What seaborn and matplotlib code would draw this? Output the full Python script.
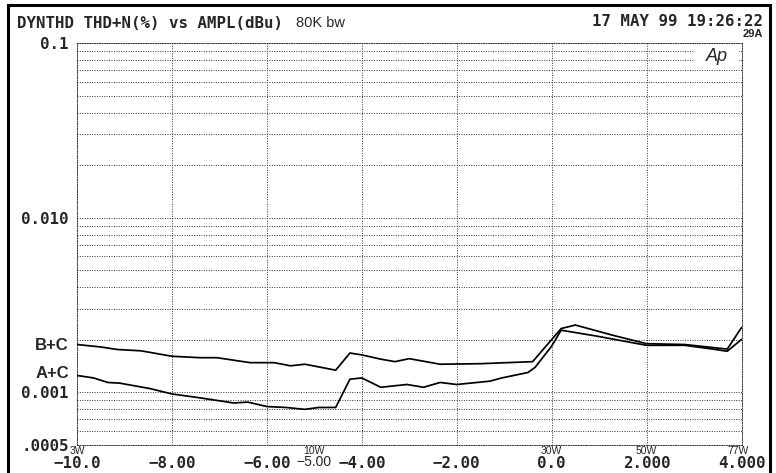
import matplotlib
matplotlib.use("Agg")
import matplotlib.pyplot as plt
import matplotlib.ticker as mticker
import matplotlib.transforms as mtrans
from matplotlib.patches import Rectangle
import numpy as np
import pandas as pd
import seaborn as sns

# amplitude (dBu) vs THD+N (%)
bc_x = [-10.0, -9.5, -9.15, -8.65, -8.0, -7.4, -7.05, -6.35, -5.85, -5.5, -5.2, -4.85,
        -4.55, -4.25, -4.0, -3.6, -3.3, -3.0, -2.35, -1.5, -0.4, 0.2, 0.5, 1.3, 2.0,
        2.8, 3.7, 4.0]
bc_y = [0.00188, 0.00182, 0.00176, 0.00173, 0.00161, 0.00158, 0.00158, 0.00148, 0.00148,
        0.00142, 0.00145, 0.00139, 0.00134, 0.00168, 0.00164, 0.00155, 0.00150, 0.00156,
        0.00145, 0.00146, 0.00150, 0.00232, 0.00243, 0.00212, 0.00190, 0.00188, 0.00177,
        0.00235]
ac_x = [-10.0, -9.65, -9.35, -9.1, -8.45, -8.0, -7.4, -6.7, -6.4, -6.0, -5.6, -5.2,
        -4.9, -4.55, -4.25, -4.0, -3.6, -3.05, -2.7, -2.35, -2.0, -1.3, -1.05, -0.5,
        -0.35, 0.0, 0.2, 0.95, 2.0, 2.8, 3.4, 3.7, 4.0]
ac_y = [0.00125, 0.00121, 0.00114, 0.00113, 0.00105, 0.00098, 0.00093, 0.00087, 0.00088,
        0.00083, 0.00082, 0.00080, 0.00082, 0.00082, 0.00119, 0.00121, 0.00107, 0.00111,
        0.00107, 0.00114, 0.00111, 0.00116, 0.00121, 0.00130, 0.00139, 0.00184, 0.00227,
        0.00210, 0.00186, 0.00186, 0.00177, 0.00172, 0.00201]

x_ticks = [-10, -8, -6, -4, -2, 0, 2, 4]
x_ticklabels = ["\u221210.0", "\u22128.00", "\u22126.00", "\u22124.00", "\u22122.00",
                "0.0", "2.000", "4.000"]
y_grid = [0.0005, 0.0006, 0.0007, 0.0008, 0.0009,
          0.001, 0.002, 0.003, 0.004, 0.005, 0.006, 0.007, 0.008, 0.009,
          0.01, 0.02, 0.03, 0.04, 0.05, 0.06, 0.07, 0.08, 0.09, 0.1]
y_labeled = {0.0005: ".0005", 0.001: "0.001", 0.01: "0.010", 0.1: "0.1"}
power_x = [-10, -5, 0, 2, 3.93]
power_labels = ["3W", "10W", "30W", "50W", "77W"]

W, H = 776, 473


def fx(px):
	return px / W


def fy(py):
	return 1 - py / H


sns.set_style("white")
plt.rcParams["font.family"] = ["DejaVu Sans"]
MONO = "DejaVu Sans Mono"
SANS = "Liberation Sans"
MSIZE = 11.3

df = pd.concat(
	[
		pd.DataFrame({"ampl": bc_x, "thdn": bc_y, "curve": "B+C"}),
		pd.DataFrame({"ampl": ac_x, "thdn": ac_y, "curve": "A+C"}),
	],
	ignore_index=True,
)

fig = plt.figure(figsize=(W / 100, H / 100), dpi=100)
ax = fig.add_axes([fx(77), fy(445), fx(741.5) - fx(77), fy(43) - fy(445)])

sns.lineplot(
	data=df, x="ampl", y="thdn", hue="curve", palette={"B+C": "black", "A+C": "black"},
	estimator=None, sort=False, linewidth=1.25, legend=False, ax=ax, zorder=3,
)

ax.set_yscale("log")
ax.set_xlim(-10, 4)
ax.set_ylim(0.0005, 0.1)
ax.set_xticks(x_ticks)
ax.set_xticklabels(x_ticklabels, fontfamily=MONO, fontweight="bold", fontsize=MSIZE)
ax.yaxis.set_major_locator(mticker.FixedLocator(y_grid))
ax.yaxis.set_minor_locator(mticker.NullLocator())
ax.set_yticklabels([y_labeled.get(v, "") for v in y_grid],
                   fontfamily=MONO, fontweight="bold", fontsize=MSIZE)
ax.tick_params(axis="both", length=0)
ax.tick_params(axis="y", pad=6)
ax.tick_params(axis="x", pad=8)
ax.set_xlabel("")
ax.set_ylabel("")

dots = (0, (1, 1.5))
ax.grid(True, which="major", color="0.2", linestyle=dots, linewidth=0.7)
for sp in ax.spines.values():
	sp.set_linestyle(dots)
	sp.set_color("0.2")
	sp.set_linewidth(0.7)

# white box behind the Ap logo
ax.add_patch(Rectangle((0.930, 0.938), 0.066, 0.055, transform=ax.transAxes,
                       facecolor="white", edgecolor="none", zorder=2.5))
ax.text(0.963, 0.966, "Ap", transform=ax.transAxes, ha="center", va="center",
        fontsize=13, fontstyle="italic", fontfamily=SANS, zorder=4)

trans = mtrans.blended_transform_factory(ax.transData, fig.transFigure)
ax.text(-5, fy(462), "\u22125.00", transform=trans, ha="center", va="center",
        fontsize=10, fontfamily=SANS)
for xp, lab in zip(power_x, power_labels):
	ax.text(xp, fy(451), lab, transform=trans, ha="center", va="center",
	        fontsize=7.5, fontfamily=SANS)

fig.text(fx(17), fy(23), "DYNTHD THD+N(%) vs AMPL(dBu)", ha="left", va="center",
         fontfamily=MONO, fontweight="bold", fontsize=MSIZE)
fig.text(fx(296), fy(23), "80K bw", ha="left", va="center", fontfamily=SANS, fontsize=10.5)
fig.text(fx(763), fy(22), "17 MAY 99 19:26:22", ha="right", va="center",
         fontfamily=MONO, fontweight="bold", fontsize=MSIZE)
fig.text(fx(763), fy(34), "29A", ha="right", va="center", fontfamily=SANS,
         fontweight="bold", fontsize=8)
fig.text(fx(69), fy(345), "B+C", ha="right", va="center", fontfamily=SANS,
         fontweight="bold", fontsize=12)
fig.text(fx(69), fy(374), "A+C", ha="right", va="center", fontfamily=SANS,
         fontweight="bold", fontsize=12)

fig.add_artist(Rectangle((fx(8), -0.05), fx(770) - fx(8), fy(5) + 0.05,
                         transform=fig.transFigure, fill=False, edgecolor="black",
                         linewidth=2.2))

fig.savefig("out.png", dpi=100)
